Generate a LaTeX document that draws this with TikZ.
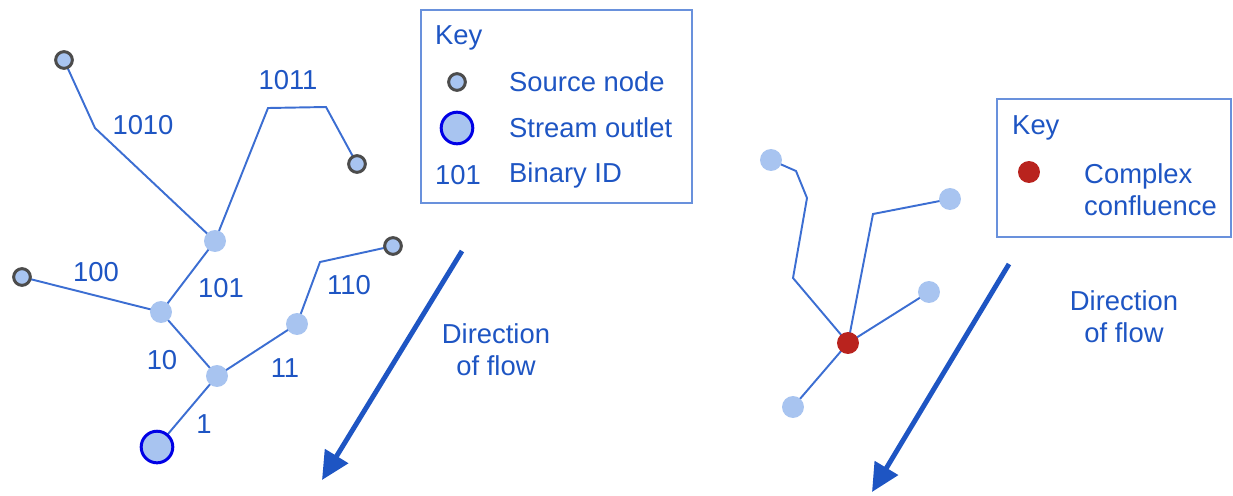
\documentclass[tikz,border=0pt]{standalone}
\usepackage{fontspec}
\setmainfont{Liberation Sans}
\usetikzlibrary{arrows.meta}
\definecolor{txtblue}{RGB}{30,85,195}
\definecolor{lineblue}{RGB}{60,110,210}
\definecolor{nodeblue}{RGB}{168,196,240}
\definecolor{boxblue}{RGB}{105,145,220}
\definecolor{confred}{RGB}{185,35,30}
\begin{document}
\begin{tikzpicture}[x=0.02cm,y=-0.02cm,
    font=\fontsize{15.6}{18}\selectfont,
    every node/.style={text=txtblue},
    river/.style={draw=lineblue,line width=1.1pt},
    junction/.style={circle,fill=nodeblue,inner sep=0pt,minimum size=12.5pt},
    source/.style={circle,fill=nodeblue,draw=black!70,line width=1.7pt,inner sep=0pt,minimum size=9.5pt},
    outlet/.style={circle,fill=nodeblue,draw=blue!90!black,line width=1.7pt,inner sep=0pt,minimum size=18pt},
    confluence/.style={circle,fill=confred,inner sep=0pt,minimum size=12.5pt},
    keybox/.style={draw=boxblue,line width=0.8pt},
    flowarrow/.style={draw=txtblue,line width=2.8pt,-{Triangle[length=16pt,width=15pt]}}]
  \useasboundingbox (0,0) rectangle (1233,495);

  % left network
  \draw[river] (64,60) -- (95,128) -- (215,241);
  \draw[river] (215,241) -- (268,108) -- (326,107) -- (357,164);
  \draw[river] (22,277) -- (161,312) -- (215,241);
  \draw[river] (161,312) -- (217,376) -- (297,324) -- (320,262) -- (393,246);
  \draw[river] (217,376) -- (157,447);

  \node[source] (s1010) at (64,60) {};
  \node[source] (s1011) at (357,164) {};
  \node[source] (s100) at (22,277) {};
  \node[source] (s110) at (393,246) {};
  \node[junction] (j101) at (215,241) {};
  \node[junction] (j10) at (161,312) {};
  \node[junction] (j11) at (297,324) {};
  \node[junction] (j1) at (217,376) {};
  \node[outlet] (out) at (157,447) {};

  \node (l1010) at (143,125) {1010};
  \node (l1011) at (288,80) {1011};
  \node (l100) at (96,272) {100};
  \node (l101) at (221,288) {101};
  \node (l110) at (349,285) {110};
  \node (l10) at (162,360) {10};
  \node (l11) at (285,368) {11};
  \node (l1) at (204,424) {1};

  % key 1
  \draw[keybox] (421,10) rectangle (692,203);
  \node[anchor=west] (key1) at (429,38) {Key};
  \node[source] (ksrc) at (457,82) {};
  \node[outlet] (kout) at (457,128) {};
  \node (kid) at (458,175) {101};
  \node[anchor=west] (tsrc) at (503,82) {Source node};
  \node[anchor=west] (tout) at (503,128) {Stream outlet};
  \node[anchor=west] (tid) at (503,175) {Binary ID};

  % flow 1
  \coordinate (f1a) at (462,251);
  \coordinate (f1b) at (322,480);
  \draw[flowarrow] (f1a) -- (f1b);
  \node[align=center] (dir1) at (496,350) {Direction\\of flow};

  % right network
  \draw[river] (771,160) -- (796,171) -- (807,198) -- (793,278) -- (848,343);
  \draw[river] (848,343) -- (873,214) -- (950,199);
  \draw[river] (848,343) -- (929,292);
  \draw[river] (848,343) -- (793,407);

  \node[junction] (ra) at (771,160) {};
  \node[junction] (rb) at (950,199) {};
  \node[junction] (rc) at (929,292) {};
  \node[junction] (rd) at (793,407) {};
  \node[confluence] (conf) at (848,343) {};

  % key 2
  \draw[keybox] (997,99) rectangle (1231,237);
  \node[anchor=west] (key2) at (1006,128) {Key};
  \node[confluence] (kconf) at (1029,172) {};
  \node[anchor=west,align=left] (tconf) at (1078,190) {Complex\\confluence};

  % flow 2
  \coordinate (f2a) at (1009,264);
  \coordinate (f2b) at (872,492);
  \draw[flowarrow] (f2a) -- (f2b);
  \node[align=center] (dir2) at (1124,317) {Direction\\of flow};
\end{tikzpicture}
\end{document}
